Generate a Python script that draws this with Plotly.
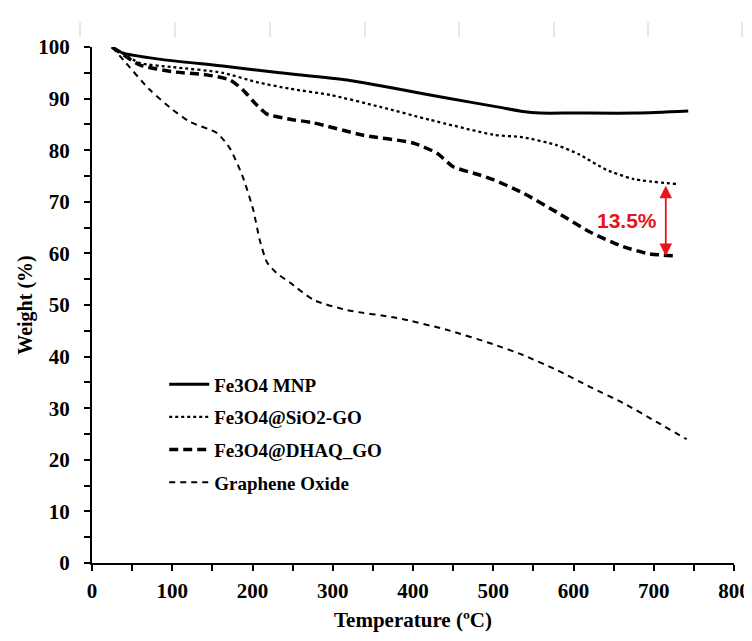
import plotly.graph_objects as go

# ---- data ----
T_mnp = [25, 39, 81, 163, 234, 318, 380, 442, 505, 537, 558, 600, 679, 743]
W_mnp = [100, 98.8, 97.7, 96.3, 95.0, 93.6, 91.9, 90.1, 88.4, 87.5, 87.2, 87.2, 87.2, 87.6]

T_sio2 = [25, 60, 101, 163, 205, 247, 297, 359, 421, 500, 537, 579, 608, 641, 675, 731]
W_sio2 = [100, 96.9, 96.1, 95.0, 93.2, 91.9, 90.7, 88.4, 85.9, 83.0, 82.5, 81.0, 79.1, 76.2, 74.4, 73.4]

T_dhaq = [25, 60, 101, 143, 172, 188, 205, 218, 247, 276, 338, 400, 430, 450, 483, 500,
          537, 579, 621, 662, 695, 730]
W_dhaq = [100, 96.5, 95.2, 94.6, 93.6, 91.7, 88.8, 87.0, 86.0, 85.3, 82.9, 81.4, 79.4, 76.8,
          75.2, 74.3, 71.7, 68.0, 64.1, 61.3, 59.9, 59.5]

T_go = [25, 39, 72, 101, 122, 156, 172, 188, 201, 209, 218, 230, 247, 276, 318, 380, 442,
        500, 537, 579, 621, 662, 704, 741]
W_go = [100, 97.5, 91.7, 87.8, 85.5, 83.3, 80.3, 74.8, 68.4, 62.6, 58.3, 56.2, 54.3, 51.0,
        49.0, 47.5, 45.2, 42.4, 40.3, 37.4, 34.1, 31.0, 27.3, 24.0]

series_names = ["Fe3O4 MNP", "Fe3O4@SiO2-GO", "Fe3O4@DHAQ_GO", "Graphene Oxide"]

diff_label = "13.5%"
diff_T = 715
diff_top = 73.4
diff_bottom = 59.5

x_ticks = [0, 100, 200, 300, 400, 500, 600, 700, 800]
y_ticks = [0, 10, 20, 30, 40, 50, 60, 70, 80, 90, 100]

SERIF = "Liberation Serif, Times New Roman, serif"

fig = go.Figure()
styles = [
    dict(width=3, dash="solid"),
    dict(width=2.3, dash="dot"),
    dict(width=3.5, dash="9px,5px"),
    dict(width=2, dash="6px,5px"),
]
data = [(T_mnp, W_mnp), (T_sio2, W_sio2), (T_dhaq, W_dhaq), (T_go, W_go)]
for i, ((t, w), name, st) in enumerate(zip(data, series_names, styles)):
    fig.add_trace(go.Scatter(
        x=t, y=w, mode="lines", name=name, legendgroup=f"g{i}",
        line=dict(color="black", width=st["width"], dash=st["dash"], shape="spline", smoothing=0.6),
    ))

# red double-headed arrow and label
fig.add_annotation(
    x=diff_T, y=diff_bottom, ax=diff_T, ay=diff_top,
    xref="x", yref="y", axref="x", ayref="y",
    showarrow=True, text="", arrowhead=2, startarrowhead=2, arrowside="end+start",
    arrowsize=1.4, startarrowsize=1.4, arrowwidth=1.8, arrowcolor="#e8131b",
)
fig.add_annotation(
    x=diff_T - 48, y=(diff_top + diff_bottom) / 2, xref="x", yref="y",
    text=diff_label, showarrow=False,
    font=dict(family="Liberation Sans, Arial, sans-serif", size=21, color="#e8131b", weight="bold"),
)

# faint marks at the top of the picture
for px in [80, 175, 270, 365, 459, 554, 648, 742]:
    xp = (px - 92) / 642
    fig.add_shape(type="line", xref="paper", yref="paper", x0=xp, x1=xp, y0=1.019, y1=1.048,
                  line=dict(color="#d0d0d0", width=1))

# page body has an 8px margin, so the figure is sized to fit the window
fig.update_layout(
    width=744, height=633,
    margin=dict(l=84, r=18, t=39, b=78, autoexpand=False),
    paper_bgcolor="white", plot_bgcolor="white",
    showlegend=True,
    legend=dict(
        x=0.1125, y=0.383, xanchor="left", yanchor="top",
        font=dict(family=SERIF, size=19, color="black", weight="bold"),
        bgcolor="rgba(0,0,0,0)", tracegroupgap=5, traceorder="grouped",
        itemwidth=40,
    ),
    xaxis=dict(
        range=[0, 800], tickvals=x_ticks, showgrid=False, zeroline=False, automargin=False,
        showline=True, linecolor="black", linewidth=2,
        ticks="outside", ticklen=6, tickwidth=1.5, tickcolor="black",
        ticklabelstandoff=2,
        minor=dict(dtick=50, ticks="outside", ticklen=6, tickwidth=1.5, tickcolor="black"),
        tickfont=dict(family=SERIF, size=21, color="black", weight="bold"),
        title=dict(text="Temperature (ºC)", standoff=10,
                   font=dict(family=SERIF, size=21, color="black", weight="bold")),
    ),
    yaxis=dict(
        range=[0, 100], tickvals=y_ticks, showgrid=False, zeroline=False, automargin=False,
        showline=True, linecolor="black", linewidth=2,
        ticks="outside", ticklen=6, tickwidth=1.5, tickcolor="black",
        ticklabelstandoff=10,
        minor=dict(dtick=5, ticks="outside", ticklen=6, tickwidth=1.5, tickcolor="black"),
        tickfont=dict(family=SERIF, size=21, color="black", weight="bold"),
        title=dict(text="Weight (%)", standoff=0,
                   font=dict(family=SERIF, size=20, color="black", weight="bold")),
    ),
)

fig.write_html("out.html")
